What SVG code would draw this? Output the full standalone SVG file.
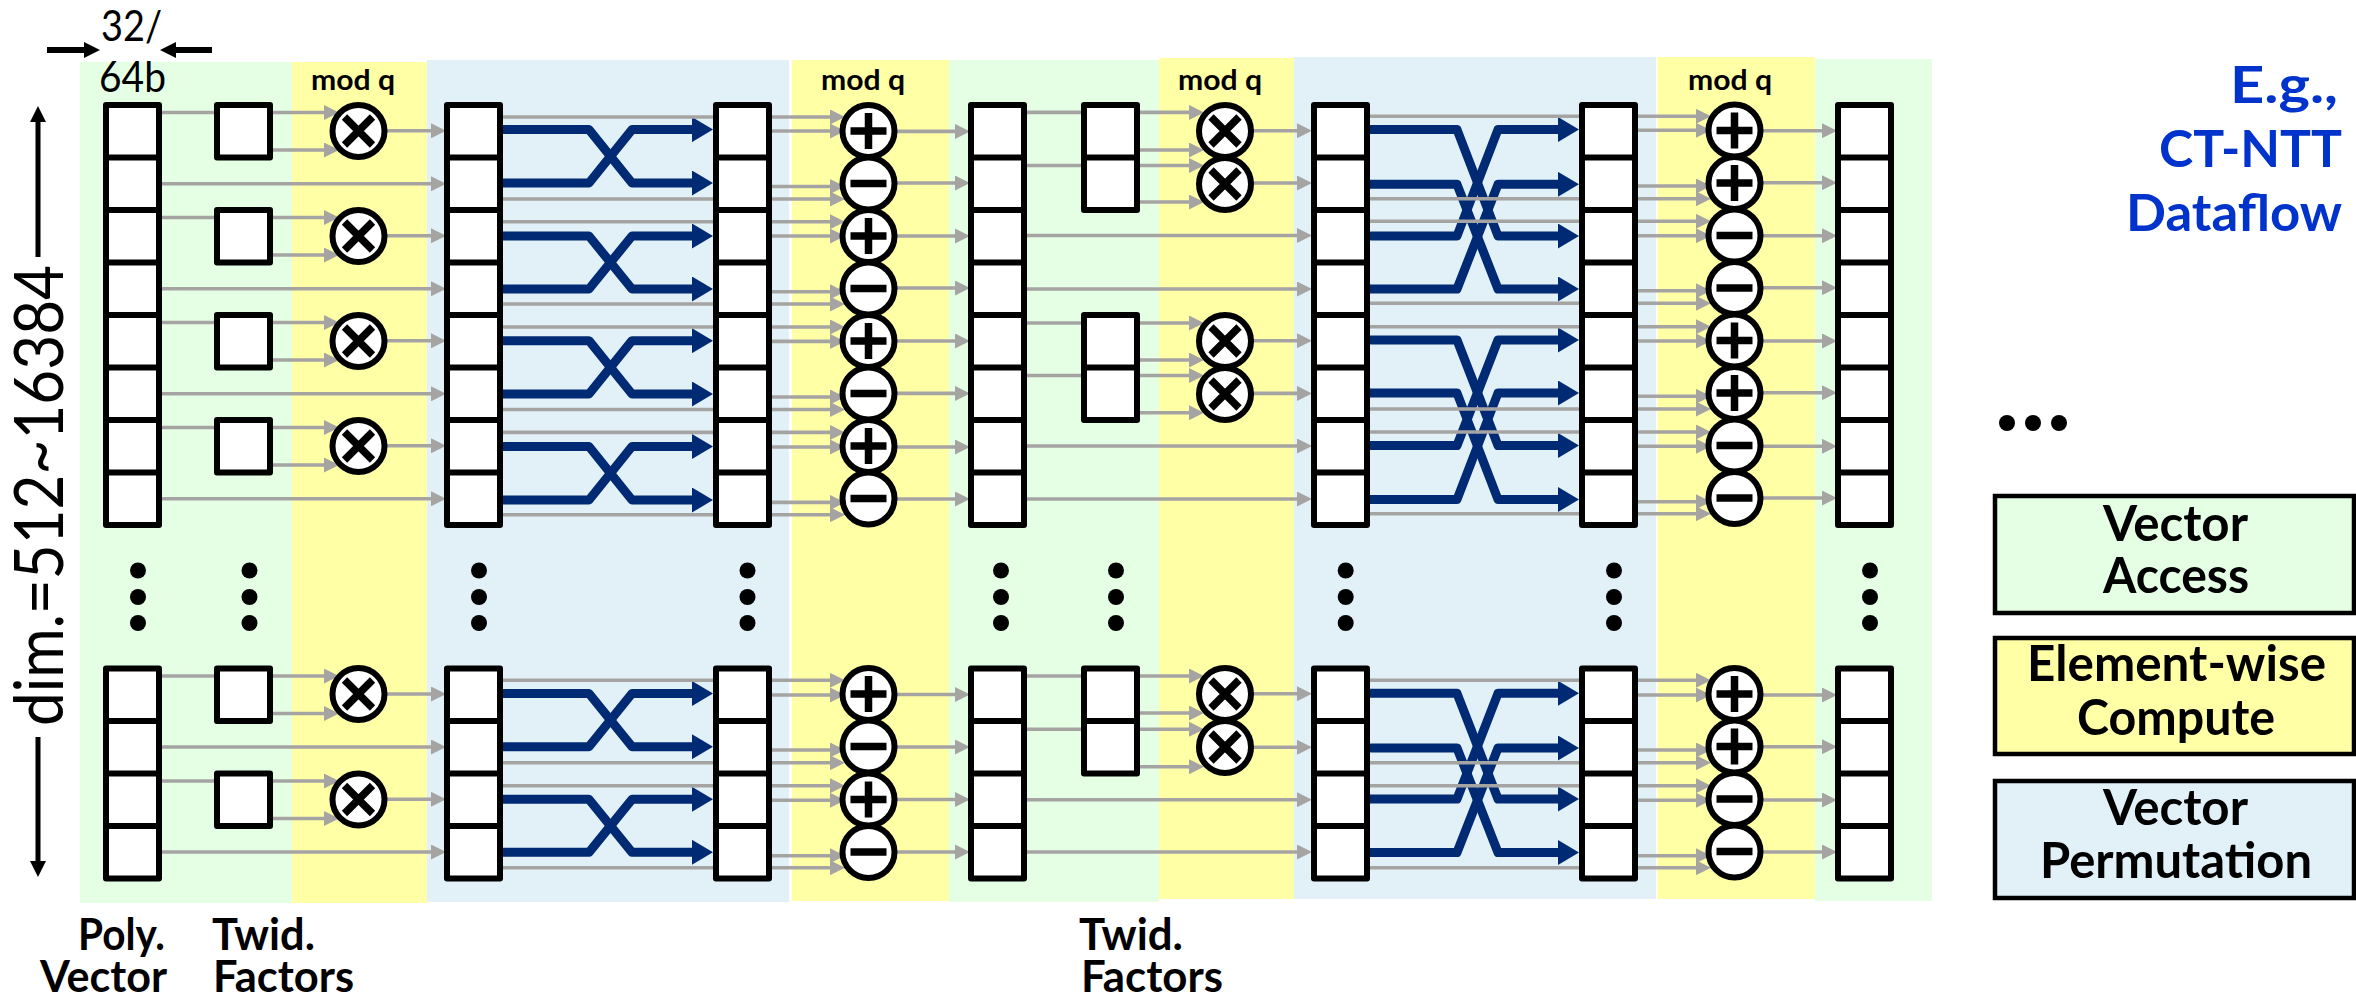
<svg xmlns="http://www.w3.org/2000/svg" width="2356" height="997" viewBox="0 0 2356 997">
<style>
.ln{fill:none;stroke:#a6a3a3;stroke-width:3.6}
.ar{marker-end:url(#mg)}
.bl{fill:none;stroke:#002a74;stroke-width:9;stroke-linejoin:round;marker-end:url(#mb)}
.cell{fill:#fff;stroke:#000;stroke-width:6;stroke-linejoin:round}
.op{fill:#fff;stroke:#000;stroke-width:6}
.sym{fill:none;stroke:#000;stroke-width:7.5}
.dot{fill:#000}
.blk{fill:none;stroke:#000;stroke-width:5.5}
text{font-family:Lato,"Liberation Sans",Arial,sans-serif;fill:#000}
.mq{font-weight:bold;font-size:29px}
.lab{font-weight:bold;font-size:43px}
.leg{font-weight:bold;font-size:49px}
.eg{font-weight:bold;font-size:52px;fill:#0033cc}
.box{stroke:#000;stroke-width:4.5}
</style>
<defs>
<marker id="mg" markerUnits="userSpaceOnUse" markerWidth="15" markerHeight="15" refX="1" refY="7.5" orient="auto"><path d="M0 0L15 7.5L0 15Z" fill="#a6a3a3"/></marker>
<marker id="mb" markerUnits="userSpaceOnUse" markerWidth="21" markerHeight="25" refX="1" refY="12.5" orient="auto"><path d="M0 0L21 12.5L0 25Z" fill="#002a74"/></marker>
<marker id="mk" markerUnits="userSpaceOnUse" markerWidth="16" markerHeight="16" refX="1" refY="8" orient="auto"><path d="M0 0L16 8L0 16Z" fill="#000"/></marker>
<g id="v8"><rect class="cell" width="53" height="420"/><path class="cell" d="M0 52.5H53M0 105H53M0 157.5H53M0 210H53M0 262.5H53M0 315H53M0 367.5H53"/></g>
<g id="v4"><rect class="cell" width="53" height="210"/><path class="cell" d="M0 52.5H53M0 105H53M0 157.5H53"/></g>
<g id="t1"><rect class="cell" width="53" height="52.5"/></g>
<g id="t2"><rect class="cell" width="53" height="105"/><path class="cell" d="M0 52.5H53"/></g>
<g id="times"><circle class="op" r="26"/><path class="sym" d="M-14 -14L14 14M14 -14L-14 14"/></g>
<g id="plus"><circle class="op" r="26"/><path class="sym" d="M-18 0H18M0 -18V18"/></g>
<g id="minus"><circle class="op" r="26"/><path class="sym" d="M-18 0H18"/></g>
<g id="vd"><circle class="dot" cy="-26.5" r="8"/><circle class="dot" r="8"/><circle class="dot" cy="26" r="8"/></g>
</defs>

<g id="bands">
<rect x="80" y="62" width="212" height="841" fill="#e5ffe5"/>
<rect x="292" y="62" width="135" height="841" fill="#ffffa6"/>
<rect x="427" y="60" width="362" height="842" fill="#e1f1f7"/>
<rect x="792" y="60" width="157" height="841" fill="#ffffa6"/>
<rect x="949" y="60" width="210" height="842" fill="#e5ffe5"/>
<rect x="1159" y="58" width="135" height="841" fill="#ffffa6"/>
<rect x="1294" y="57" width="362" height="842" fill="#e1f1f7"/>
<rect x="1657.5" y="57" width="157.5" height="842" fill="#ffffa6"/>
<rect x="1815" y="59" width="117" height="842" fill="#e5ffe5"/>
</g>

<g id="connectors">
<g id="perm1">
<path class="bl" d="M502 129.6H589L632 183H693"/><path class="bl" d="M502 183H589L632 129.6H693"/>
<path class="bl" d="M502 236H589L632 289H693"/><path class="bl" d="M502 289H589L632 236H693"/>
<path class="bl" d="M502 340.7H589L632 394H693"/><path class="bl" d="M502 394H589L632 340.7H693"/>
<path class="bl" d="M502 446.5H589L632 500H693"/><path class="bl" d="M502 500H589L632 446.5H693"/>
<path class="bl" d="M502 693.5H589L632 746.7H693"/><path class="bl" d="M502 746.7H589L632 693.5H693"/>
<path class="bl" d="M502 799.3H589L632 852.3H693"/><path class="bl" d="M502 852.3H589L632 799.3H693"/>
</g>
<g id="perm2">
<path class="bl" d="M1369 129.5H1457L1498 236H1559"/><path class="bl" d="M1369 184.3H1457L1498 289H1559"/>
<path class="bl" d="M1369 236H1457L1498 129.5H1559"/><path class="bl" d="M1369 289H1457L1498 184.3H1559"/>
<path class="bl" d="M1369 340H1457L1498 445.5H1559"/><path class="bl" d="M1369 393H1457L1498 499.5H1559"/>
<path class="bl" d="M1369 445.5H1457L1498 340H1559"/><path class="bl" d="M1369 499.5H1457L1498 393H1559"/>
<path class="bl" d="M1369 693.3H1457L1498 799H1559"/><path class="bl" d="M1369 748H1457L1498 852.5H1559"/>
<path class="bl" d="M1369 799H1457L1498 693.3H1559"/><path class="bl" d="M1369 852.5H1457L1498 748H1559"/>
</g>
<g id="stage1">
<path class="ln" d="M162 112.5H214"/><path class="ln ar" d="M273 112.5H325"/><path class="ln ar" d="M273 150H325"/><path class="ln ar" d="M162 183.8H432"/><path class="ln ar" d="M387 130.8H432"/>
<path class="ln" d="M162 217.5H214"/><path class="ln ar" d="M273 217.5H325"/><path class="ln ar" d="M273 255H325"/><path class="ln ar" d="M162 288.8H432"/><path class="ln ar" d="M387 235.8H432"/>
<path class="ln" d="M162 322.5H214"/><path class="ln ar" d="M273 322.5H325"/><path class="ln ar" d="M273 360H325"/><path class="ln ar" d="M162 393.8H432"/><path class="ln ar" d="M387 340.8H432"/>
<path class="ln" d="M162 427.5H214"/><path class="ln ar" d="M273 427.5H325"/><path class="ln ar" d="M273 465H325"/><path class="ln ar" d="M162 498.8H432"/><path class="ln ar" d="M387 445.8H432"/>
<path class="ln" d="M162 676H214"/><path class="ln ar" d="M273 676H325"/><path class="ln ar" d="M273 713.5H325"/><path class="ln ar" d="M162 747H432"/><path class="ln ar" d="M387 694H432"/>
<path class="ln" d="M162 781H214"/><path class="ln ar" d="M273 781H325"/><path class="ln ar" d="M273 818.5H325"/><path class="ln ar" d="M162 852H432"/><path class="ln ar" d="M387 799.3H432"/>
</g>
<g id="stage2">
<path class="ln ar" d="M502 117H831"/><path class="ln ar" d="M502 199H831"/><path class="ln ar" d="M502 221.7H831"/><path class="ln ar" d="M502 304H831"/><path class="ln ar" d="M502 327H831"/><path class="ln ar" d="M502 409.5H831"/><path class="ln ar" d="M502 432.4H831"/><path class="ln ar" d="M502 514.7H831"/><path class="ln ar" d="M502 680.3H831"/><path class="ln ar" d="M502 762.7H831"/><path class="ln ar" d="M502 785.7H831"/><path class="ln ar" d="M502 867.7H831"/>
<path class="ln ar" d="M770 131H831"/><path class="ln ar" d="M770 186.5H831"/><path class="ln ar" d="M770 236H831"/><path class="ln ar" d="M770 291.7H831"/><path class="ln ar" d="M770 341.4H831"/><path class="ln ar" d="M770 397H831"/><path class="ln ar" d="M770 447H831"/><path class="ln ar" d="M770 502.4H831"/><path class="ln ar" d="M770 695H831"/><path class="ln ar" d="M770 750H831"/><path class="ln ar" d="M770 800.3H831"/><path class="ln ar" d="M770 855.7H831"/>
<path class="ln ar" d="M897 131.4H956"/><path class="ln ar" d="M897 183H956"/><path class="ln ar" d="M897 236H956"/><path class="ln ar" d="M897 288H956"/><path class="ln ar" d="M897 341H956"/><path class="ln ar" d="M897 393.4H956"/><path class="ln ar" d="M897 447H956"/><path class="ln ar" d="M897 499H956"/><path class="ln ar" d="M897 694.5H956"/><path class="ln ar" d="M897 747H956"/><path class="ln ar" d="M897 799.5H956"/><path class="ln ar" d="M897 852H956"/>
</g>
<g id="stage3">
<path class="ln" d="M1026 112.4H1084"/><path class="ln ar" d="M1137 112.4H1190"/><path class="ln ar" d="M1137 150H1190"/><path class="ln" d="M1026 165.5H1084"/><path class="ln ar" d="M1137 165.5H1190"/><path class="ln ar" d="M1137 202H1190"/>
<path class="ln" d="M1026 323H1084"/><path class="ln ar" d="M1137 323H1190"/><path class="ln ar" d="M1137 360H1190"/><path class="ln" d="M1026 375.5H1084"/><path class="ln ar" d="M1137 375.5H1190"/><path class="ln ar" d="M1137 412.7H1190"/>
<path class="ln" d="M1026 676H1084"/><path class="ln ar" d="M1137 676H1190"/><path class="ln ar" d="M1137 713H1190"/><path class="ln" d="M1026 729.3H1084"/><path class="ln ar" d="M1137 729.3H1190"/><path class="ln ar" d="M1137 766.7H1190"/>
<path class="ln ar" d="M1026 235.5H1298"/><path class="ln ar" d="M1026 289H1298"/><path class="ln ar" d="M1026 446H1298"/><path class="ln ar" d="M1026 499H1298"/><path class="ln ar" d="M1026 799.7H1298"/><path class="ln ar" d="M1026 852H1298"/>
<path class="ln ar" d="M1253 130.7H1298"/><path class="ln ar" d="M1253 183H1298"/><path class="ln ar" d="M1253 340.7H1298"/><path class="ln ar" d="M1253 393.4H1298"/><path class="ln ar" d="M1253 693.7H1298"/><path class="ln ar" d="M1253 747.3H1298"/>
</g>
<g id="stage4">
<path class="ln ar" d="M1369 116.3H1697"/><path class="ln ar" d="M1369 198.7H1697"/><path class="ln ar" d="M1369 221.3H1697"/><path class="ln ar" d="M1369 303.3H1697"/><path class="ln ar" d="M1369 326.7H1697"/><path class="ln ar" d="M1369 409H1697"/><path class="ln ar" d="M1369 432H1697"/><path class="ln ar" d="M1369 513.7H1697"/><path class="ln ar" d="M1369 680.3H1697"/><path class="ln ar" d="M1369 762.7H1697"/><path class="ln ar" d="M1369 785.7H1697"/><path class="ln ar" d="M1369 867.7H1697"/>
<path class="ln ar" d="M1637 130.3H1697"/><path class="ln ar" d="M1637 186H1697"/><path class="ln ar" d="M1637 235.7H1697"/><path class="ln ar" d="M1637 290.7H1697"/><path class="ln ar" d="M1637 341H1697"/><path class="ln ar" d="M1637 396.3H1697"/><path class="ln ar" d="M1637 446.3H1697"/><path class="ln ar" d="M1637 501.7H1697"/><path class="ln ar" d="M1637 695H1697"/><path class="ln ar" d="M1637 750H1697"/><path class="ln ar" d="M1637 800.3H1697"/><path class="ln ar" d="M1637 855.7H1697"/>
<path class="ln ar" d="M1763 130.7H1823"/><path class="ln ar" d="M1763 182.7H1823"/><path class="ln ar" d="M1763 235.7H1823"/><path class="ln ar" d="M1763 287.7H1823"/><path class="ln ar" d="M1763 341H1823"/><path class="ln ar" d="M1763 392.7H1823"/><path class="ln ar" d="M1763 446.3H1823"/><path class="ln ar" d="M1763 498H1823"/><path class="ln ar" d="M1763 695H1823"/><path class="ln ar" d="M1763 746.7H1823"/><path class="ln ar" d="M1763 800H1823"/><path class="ln ar" d="M1763 852H1823"/>
</g>
</g>

<g id="vec1"><use href="#v8" x="106" y="105"/><use href="#v4" x="106" y="668.5"/></g>
<g id="vec2"><use href="#v8" x="447" y="105"/><use href="#v4" x="447" y="668.5"/></g>
<g id="vec3"><use href="#v8" x="716" y="105"/><use href="#v4" x="716" y="668.5"/></g>
<g id="vec4"><use href="#v8" x="971" y="105"/><use href="#v4" x="971" y="668.5"/></g>
<g id="vec5"><use href="#v8" x="1314" y="105"/><use href="#v4" x="1314" y="668.5"/></g>
<g id="vec6"><use href="#v8" x="1582" y="105"/><use href="#v4" x="1582" y="668.5"/></g>
<g id="vec7"><use href="#v8" x="1838" y="105"/><use href="#v4" x="1838" y="668.5"/></g>

<g id="twid1"><use href="#t1" x="217" y="105"/><use href="#t1" x="217" y="210"/><use href="#t1" x="217" y="315"/><use href="#t1" x="217" y="420"/><use href="#t1" x="217" y="668.5"/><use href="#t1" x="217" y="773.5"/></g>
<g id="twid2"><use href="#t2" x="1084" y="105"/><use href="#t2" x="1084" y="315"/><use href="#t2" x="1084" y="668.5"/></g>

<g id="ops1"><use href="#times" x="358.5" y="131"/><use href="#times" x="358.5" y="236"/><use href="#times" x="358.5" y="341"/><use href="#times" x="358.5" y="446"/><use href="#times" x="358.5" y="694"/><use href="#times" x="358.5" y="799.5"/></g>
<g id="ops2"><use href="#plus" x="868.5" y="131"/><use href="#minus" x="868.5" y="183.5"/><use href="#plus" x="868.5" y="236"/><use href="#minus" x="868.5" y="288.5"/><use href="#plus" x="868.5" y="341"/><use href="#minus" x="868.5" y="393.5"/><use href="#plus" x="868.5" y="446"/><use href="#minus" x="868.5" y="498.5"/><use href="#plus" x="868.5" y="694"/><use href="#minus" x="868.5" y="746.5"/><use href="#plus" x="868.5" y="799.5"/><use href="#minus" x="868.5" y="852"/></g>
<g id="ops3"><use href="#times" x="1225" y="131"/><use href="#times" x="1225" y="184"/><use href="#times" x="1225" y="341"/><use href="#times" x="1225" y="394"/><use href="#times" x="1225" y="694"/><use href="#times" x="1225" y="747"/></g>
<g id="ops4"><use href="#plus" x="1734.5" y="130.5"/><use href="#plus" x="1734.5" y="183"/><use href="#minus" x="1734.5" y="235.5"/><use href="#minus" x="1734.5" y="288"/><use href="#plus" x="1734.5" y="340.5"/><use href="#plus" x="1734.5" y="393"/><use href="#minus" x="1734.5" y="445.5"/><use href="#minus" x="1734.5" y="498"/><use href="#plus" x="1734.5" y="694"/><use href="#plus" x="1734.5" y="746.5"/><use href="#minus" x="1734.5" y="799"/><use href="#minus" x="1734.5" y="851.5"/></g>

<g id="ellipsis">
<use href="#vd" x="138" y="597"/><use href="#vd" x="249.5" y="597"/><use href="#vd" x="479" y="597"/><use href="#vd" x="747.5" y="597"/><use href="#vd" x="1001" y="597"/><use href="#vd" x="1116" y="597"/><use href="#vd" x="1345.7" y="597"/><use href="#vd" x="1614" y="597"/><use href="#vd" x="1870" y="597"/>
<circle class="dot" cx="2007" cy="423" r="8"/><circle class="dot" cx="2033" cy="423" r="8"/><circle class="dot" cx="2059" cy="423" r="8"/>
</g>

<g id="dim-arrows">
<path class="blk" style="marker-end:url(#mk);stroke-width:6" d="M47 50H85"/>
<path class="blk" style="marker-end:url(#mk);stroke-width:6" d="M212 50H175"/>
<path class="blk" style="marker-end:url(#mk);stroke-width:5" d="M38 257V121"/>
<path class="blk" style="marker-end:url(#mk);stroke-width:5" d="M38 737V862"/>
</g>

<g id="labels">
<text x="101" y="40.7" font-size="42" textLength="61" lengthAdjust="spacingAndGlyphs">32/</text>
<text x="99" y="91.7" font-size="42" textLength="67" lengthAdjust="spacingAndGlyphs">64b</text>
<text transform="translate(63 726) rotate(-90)" font-size="68" textLength="461" lengthAdjust="spacingAndGlyphs">dim.=512~16384</text>
<text class="mq" x="311" y="90" textLength="84" lengthAdjust="spacingAndGlyphs">mod q</text>
<text class="mq" x="821" y="90" textLength="84" lengthAdjust="spacingAndGlyphs">mod q</text>
<text class="mq" x="1178" y="90" textLength="84" lengthAdjust="spacingAndGlyphs">mod q</text>
<text class="mq" x="1688" y="90" textLength="84" lengthAdjust="spacingAndGlyphs">mod q</text>
<text class="lab" x="78" y="950" textLength="87" lengthAdjust="spacingAndGlyphs">Poly.</text>
<text class="lab" x="40" y="991.7" textLength="127" lengthAdjust="spacingAndGlyphs">Vector</text>
<text class="lab" x="212" y="950" textLength="103" lengthAdjust="spacingAndGlyphs">Twid.</text>
<text class="lab" x="213" y="991.7" textLength="141" lengthAdjust="spacingAndGlyphs">Factors</text>
<text class="lab" x="1079" y="950" textLength="104" lengthAdjust="spacingAndGlyphs">Twid.</text>
<text class="lab" x="1081" y="991.7" textLength="142" lengthAdjust="spacingAndGlyphs">Factors</text>
<text class="eg" x="2230" y="103" textLength="108" lengthAdjust="spacingAndGlyphs">E.g.,</text>
<text class="eg" x="2159" y="167.4" textLength="183" lengthAdjust="spacingAndGlyphs">CT-NTT</text>
<text class="eg" x="2126" y="231" textLength="216" lengthAdjust="spacingAndGlyphs">Dataflow</text>
</g>

<g id="legend-access"><rect class="box" x="1995" y="496" width="359" height="117" fill="#e5ffe5"/><text class="leg" x="2103" y="541" textLength="145" lengthAdjust="spacingAndGlyphs">Vector</text><text class="leg" x="2103" y="593" textLength="146" lengthAdjust="spacingAndGlyphs">Access</text></g>
<g id="legend-compute"><rect class="box" x="1995" y="638" width="359" height="116" fill="#ffffa6"/><text class="leg" x="2027" y="681" textLength="299" lengthAdjust="spacingAndGlyphs">Element-wise</text><text class="leg" x="2077" y="735" textLength="198" lengthAdjust="spacingAndGlyphs">Compute</text></g>
<g id="legend-permute"><rect class="box" x="1995" y="781" width="359" height="117" fill="#e1f1f7"/><text class="leg" x="2103" y="825" textLength="145" lengthAdjust="spacingAndGlyphs">Vector</text><text class="leg" x="2040" y="878" textLength="272" lengthAdjust="spacingAndGlyphs">Permutation</text></g>
</svg>
